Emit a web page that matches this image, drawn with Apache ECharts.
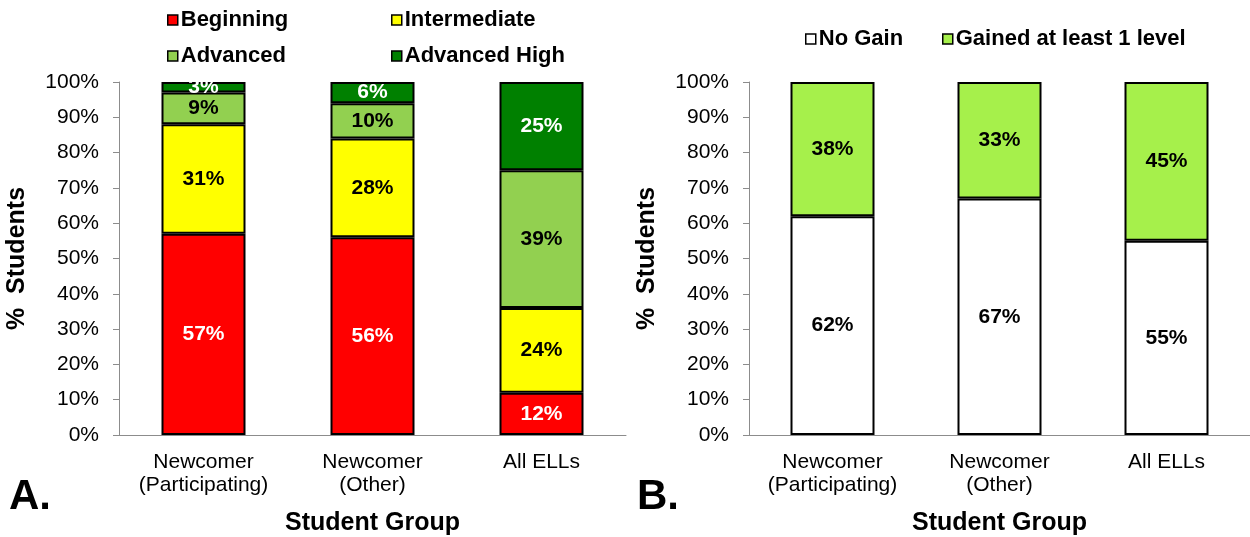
<!DOCTYPE html>
<html>
<head>
<meta charset="utf-8">
<script src="https://cdn.jsdelivr.net/npm/echarts@6/dist/echarts.min.js"></script>
<style>
  html, body { margin: 0; padding: 0; background: #fff; }
  #chart { width: 1250px; height: 537px; }
</style>
</head>
<body>
<div id="chart"></div>
<script>
// categories shared by both panels
const groups = ["Newcomer\n(Participating)", "Newcomer\n(Other)", "All ELLs"];

// panel A: proficiency levels (% students)
const beginning = [57, 56, 12];
const intermediate = [31, 28, 24];
const advanced = [9, 10, 39];
const advancedHigh = [3, 6, 25];

// panel B: gain
const noGain = [62, 67, 55];
const gained = [38, 33, 45];

const FONT = "Liberation Sans, Arial, sans-serif";
const AXIS_GREY = "#8c8c8c";

function y_axis(gridIndex) {
    return {
        type: "value", gridIndex, min: 0, max: 100, interval: 10,
        name: "%  Students", nameLocation: "middle", nameGap: 89, nameRotate: 90,
        nameTextStyle: { fontFamily: FONT, fontSize: 25, fontWeight: "bold", color: "#000" },
        axisLine: { show: true, lineStyle: { color: AXIS_GREY, width: 1 } },
        axisTick: { show: true, length: 6, lineStyle: { color: AXIS_GREY } },
        splitLine: { show: false },
        axisLabel: { formatter: "{value}%", fontFamily: FONT, fontSize: 21, color: "#000", margin: 20 },
    };
}

function x_axis(gridIndex) {
    return {
        type: "category", gridIndex, data: groups,
        name: "Student Group", nameLocation: "middle", nameGap: 76,
        nameTextStyle: { fontFamily: FONT, fontSize: 25, fontWeight: "bold", color: "#000" },
        axisLine: { show: true, lineStyle: { color: AXIS_GREY, width: 1 } },
        axisTick: { show: false },
        axisLabel: { fontFamily: FONT, fontSize: 21, color: "#000", margin: 16, lineHeight: 23, interval: 0 },
    };
}

function bar(name, data, color, labelColor, idx, stack) {
    return {
        name, type: "bar", data, stack,
        xAxisIndex: idx, yAxisIndex: idx,
        barWidth: 84,
        itemStyle: { color, borderColor: "#000", borderWidth: 2 },
        label: {
            show: true, position: "inside", formatter: "{c}%",
            fontFamily: FONT, fontSize: 21, fontWeight: "bold", color: labelColor,
        },
        emphasis: { disabled: true },
    };
}

function legend(name, left, top) {
    return {
        data: [name], left, top, icon: "rect", itemWidth: 10, itemHeight: 10,
        selectedMode: false,
        textStyle: { fontFamily: FONT, fontSize: 22, fontWeight: "bold", color: "#000", padding: [0, 0, 0, -2] },
        itemStyle: { borderColor: "#000", borderWidth: 1.5 },
    };
}

const option = {
    animation: false,
    backgroundColor: "#fff",
    grid: [
        { left: 119, top: 82, width: 507, height: 353, outerBoundsMode: "none", containLabel: false },
        { left: 749, top: 82, width: 501, height: 353, outerBoundsMode: "none", containLabel: false },
    ],
    xAxis: [x_axis(0), x_axis(1)],
    yAxis: [y_axis(0), y_axis(1)],
    legend: [
        legend("Beginning", 162, 4),
        legend("Intermediate", 386, 4),
        legend("Advanced", 162, 40),
        legend("Advanced High", 386, 40),
        legend("No Gain", 800, 23),
        legend("Gained at least 1 level", 937, 23),
    ],
    series: [
        bar("Beginning", beginning, "#ff0000", "#fff", 0, "a"),
        bar("Intermediate", intermediate, "#ffff00", "#000", 0, "a"),
        bar("Advanced", advanced, "#92d050", "#000", 0, "a"),
        bar("Advanced High", advancedHigh, "#008000", "#fff", 0, "a"),
        bar("No Gain", noGain, "#ffffff", "#000", 1, "b"),
        bar("Gained at least 1 level", gained, "#a6f04b", "#000", 1, "b"),
    ],
    graphic: [
        { type: "text", left: 9, top: 476, style: { text: "A.", font: "bold 42px " + FONT, fill: "#000" } },
        { type: "text", left: 637, top: 476, style: { text: "B.", font: "bold 42px " + FONT, fill: "#000" } },
    ],
};

const chart = echarts.init(document.getElementById("chart"), null, { renderer: "canvas" });
chart.setOption(option);
</script>
</body>
</html>
